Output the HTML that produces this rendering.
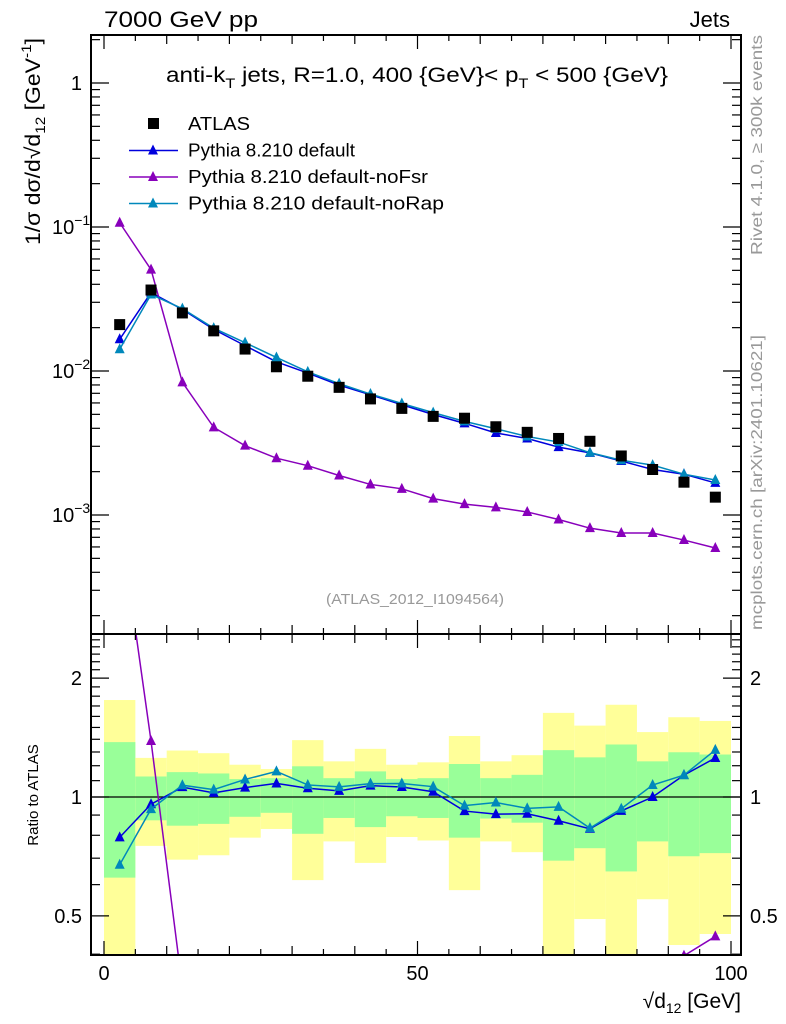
<!DOCTYPE html>
<html><head><meta charset="utf-8"><style>
body{margin:0;background:#fff}
svg{display:block;font-family:"Liberation Sans",sans-serif}
</style></head><body>
<svg id="c" width="786" height="1024" viewBox="0 0 786 1024" xmlns="http://www.w3.org/2000/svg">
<text x="104" y="27" font-size="22" textLength="154" lengthAdjust="spacingAndGlyphs">7000 GeV pp</text>
<text x="730" y="27" font-size="22" text-anchor="end">Jets</text>
<text x="166" y="82" font-size="21" textLength="502" lengthAdjust="spacingAndGlyphs">anti-k<tspan font-size="14" dy="6">T</tspan><tspan dy="-6"> jets, R=1.0, 400 {GeV}&lt; p</tspan><tspan font-size="14" dy="6">T</tspan><tspan dy="-6"> &lt; 500 {GeV}</tspan></text>
<text transform="translate(40,245) rotate(-90)" font-size="21" textLength="207" lengthAdjust="spacingAndGlyphs">1/σ dσ/d√d<tspan font-size="14" dy="5">12</tspan><tspan dy="-5"> [GeV</tspan><tspan font-size="14" dy="-9">-1</tspan><tspan dy="9">]</tspan></text>
<text transform="translate(38,795) rotate(-90)" font-size="15" text-anchor="middle">Ratio to ATLAS</text>
<text x="741" y="1008" font-size="21" text-anchor="end">√d<tspan font-size="14" dy="5">12</tspan><tspan dy="-5"> [GeV]</tspan></text>
<text transform="translate(762,255) rotate(-90)" font-size="16" fill="#999" textLength="220" lengthAdjust="spacingAndGlyphs">Rivet 4.1.0, ≥ 300k events</text>
<text transform="translate(762,630) rotate(-90)" font-size="16" fill="#999" textLength="295" lengthAdjust="spacingAndGlyphs">mcplots.cern.ch [arXiv:2401.10621]</text>
<text x="326" y="604" font-size="15" fill="#999" textLength="178" lengthAdjust="spacingAndGlyphs">(ATLAS_2012_I1094564)</text>
<g id="g"></g>
</svg>
<script>
const xCenters=[2.5,7.5,12.5,17.5,22.5,27.5,32.5,37.5,42.5,47.5,52.5,57.5,62.5,67.5,72.5,77.5,82.5,87.5,92.5,97.5];
const atlas=[0.021,0.0365,0.0253,0.019,0.0142,0.0107,0.0092,0.0077,0.0064,0.0055,0.00484,0.0047,0.0041,0.00375,0.0034,0.00325,0.00257,0.00207,0.00169,0.00133];
const pyDefault=[0.0166,0.035,0.0268,0.01946,0.015,0.01158,0.00968,0.00798,0.00684,0.00583,0.00499,0.00433,0.00371,0.0034,0.00296,0.0027,0.00237,0.00207,0.00192,0.00167];
const pyNoFsr=[0.107,0.0506,0.00834,0.00406,0.00303,0.00248,0.0022,0.00188,0.00163,0.00152,0.0013,0.00119,0.00113,0.00105,0.00093,0.00081,0.00075,0.00075,0.00067,0.00059];
const pyNoRap=[0.01415,0.034,0.0271,0.01984,0.01573,0.01242,0.00987,0.00817,0.00692,0.00595,0.00514,0.00447,0.00397,0.00351,0.00321,0.00271,0.0024,0.00222,0.00192,0.00175];
const yellowHi=[1.76,1.256,1.311,1.291,1.207,1.177,1.393,1.231,1.324,1.207,1.224,1.427,1.231,1.276,1.633,1.516,1.712,1.46,1.592,1.558];
const greenHi=[1.377,1.127,1.156,1.147,1.11,1.116,1.196,1.116,1.161,1.11,1.116,1.212,1.116,1.138,1.314,1.26,1.358,1.231,1.298,1.281];
const greenLo=[0.625,0.873,0.846,0.855,0.891,0.912,0.807,0.885,0.839,0.894,0.885,0.789,0.882,0.861,0.69,0.742,0.648,0.772,0.708,0.721];
const yellowLo=[0.3,0.752,0.694,0.712,0.789,0.83,0.616,0.772,0.681,0.792,0.776,0.581,0.772,0.725,0.3,0.491,0.3,0.551,0.422,0.45];
const xTicks=[0,50,100];
const mainTicks=[1,0.1,0.01,0.001];
const mainTickLabels=["1","10","10","10"];
const mainTickExp=["","−1","−2","−3"];
const ratioTicks=[0.5,1,2];
const ratioTickLabels=["0.5","1","2"];

const NS="http://www.w3.org/2000/svg";
const g=document.getElementById('g');
const L=91,R=741,T=35,M=634,B=955;
const X=v=>104+v*6.27;
const Y=v=>83-Math.log10(v)*144;
const YR=v=>797-Math.log10(v)*395;
function el(t,a,p){const e=document.createElementNS(NS,t);for(const k in a)e.setAttribute(k,a[k]);(p||g).appendChild(e);return e;}
const defs=el('defs',{});
const c1=el('clipPath',{id:'cm'},defs);el('rect',{x:L,y:T,width:R-L,height:M-T},c1);
const c2=el('clipPath',{id:'cr'},defs);el('rect',{x:L,y:M,width:R-L,height:B-M},c2);
const gm=el('g',{'clip-path':'url(#cm)'});


const gr=el('g',{'clip-path':'url(#cr)'});


xCenters.forEach((c,i)=>{
  const x0=X(c-2.5),w=X(c+2.5)-x0;
  const y1=el('rect',{x:x0,y:YR(yellowHi[i]),width:w,height:YR(yellowLo[i])-YR(yellowHi[i]),fill:'#ffff99'},gr);
  
  
  const g1=el('rect',{x:x0,y:YR(greenHi[i]),width:w,height:YR(greenLo[i])-YR(greenHi[i]),fill:'#99ff99'},gr);
  
  
});
el('line',{x1:L,x2:R,y1:YR(1),y2:YR(1),stroke:'#000','stroke-width':1.2},gr);
function tri(p,x,y,col){const e=el('polygon',{points:`${x-5},${y+4} ${x+5},${y+4} ${x},${y-6}`,fill:col},p);return e;}
const series=[[pyDefault,'#0000dd','default'],[pyNoFsr,'#8800bb','nofsr'],[pyNoRap,'#0088bb','norap']];
series.forEach(([d,col,nm])=>{
  const pm=el('polyline',{points:d.map((v,i)=>X(xCenters[i])+','+Y(v)).join(' '),fill:'none',stroke:col,'stroke-width':1.5},gm);
  
  
  d.forEach((v,i)=>{const t=tri(gm,X(xCenters[i]),Y(v),col);
    
    });
  const pr=el('polyline',{points:d.map((v,i)=>X(xCenters[i])+','+YR(v/atlas[i])).join(' '),fill:'none',stroke:col,'stroke-width':1.5},gr);
  
  
  d.forEach((v,i)=>{const t=tri(gr,X(xCenters[i]),YR(v/atlas[i]),col);
    
    });
});
atlas.forEach((v,i)=>{const r=el('rect',{x:X(xCenters[i])-5.5,y:Y(v)-5.5,width:11,height:11,fill:'#000'},gm);
  
  });
el('rect',{x:L,y:T,width:R-L,height:M-T,fill:'none',stroke:'#000','stroke-width':2});
el('rect',{x:L,y:M,width:R-L,height:B-M,fill:'none',stroke:'#000','stroke-width':2});
for(let v=0;v<=100;v+=5){const big=v%50===0,len=big?14:(v%10===0?9:6);const x=X(v);
  [[T,1],[M,-1],[M,1],[B,-1]].forEach(([y,s])=>el('line',{x1:x,x2:x,y1:y,y2:y+s*len,stroke:'#000','stroke-width':1.2}));}
xTicks.forEach(v=>{const t=el('text',{x:X(v),y:980,'font-size':20,'text-anchor':'middle'});t.textContent=v;
  
  });
for(let e=-4;e<=0;e++)for(let m=1;m<=9;m++){const v=m*Math.pow(10,e);const y=Y(v);if(y<T||y>M)continue;const len=m===1?18:9;
  el('line',{x1:L,x2:L+len,y1:y,y2:y,stroke:'#000','stroke-width':1.2});el('line',{x1:R,x2:R-len,y1:y,y2:y,stroke:'#000','stroke-width':1.2});}
mainTicks.forEach((v,i)=>{const t=el('text',{x:i?52:82,y:Y(v)+7,'font-size':20,'text-anchor':i?'start':'end'});t.textContent=mainTickLabels[i];
  if(mainTickExp[i]){const s=el('tspan',{'font-size':14,dy:-9},t);s.textContent=mainTickExp[i];}
  
  });
for(let v=0.4;v<2.6;v+=0.1){const y=YR(v);if(y<M||y>B)continue;const major=Math.abs(v-0.5)<1e-6||Math.abs(v-1)<1e-6||Math.abs(v-2)<1e-6;const len=major?18:9;
  el('line',{x1:L,x2:L+len,y1:y,y2:y,stroke:'#000','stroke-width':1.2});el('line',{x1:R,x2:R-len,y1:y,y2:y,stroke:'#000','stroke-width':1.2});}
ratioTicks.forEach((v,i)=>{const t=el('text',{x:82,y:YR(v)+7,'font-size':20,'text-anchor':'end'});t.textContent=ratioTickLabels[i];
  
  
  const t2=el('text',{x:750,y:YR(v)+7,'font-size':20});t2.textContent=ratioTickLabels[i];
  
  });
const lg=el('g',{});


el('rect',{x:148,y:118,width:11,height:11,fill:'#000'},lg);
const legendNames=['ATLAS','Pythia 8.210 default','Pythia 8.210 default-noFsr','Pythia 8.210 default-noRap'];
const legendWidths=[62,167,240,256];
legendNames.forEach((n,i)=>{const y=124+i*26.5;
  if(i){const col=series[i-1][1];el('line',{x1:129,x2:178,y1:y,y2:y,stroke:col,'stroke-width':1.5},lg);tri(lg,153,y,col);}
  const t=el('text',{x:188,y:y+6,'font-size':18,textLength:legendWidths[i],lengthAdjust:'spacingAndGlyphs'},lg);t.textContent=n;
  
  });
</script>
</body></html>
